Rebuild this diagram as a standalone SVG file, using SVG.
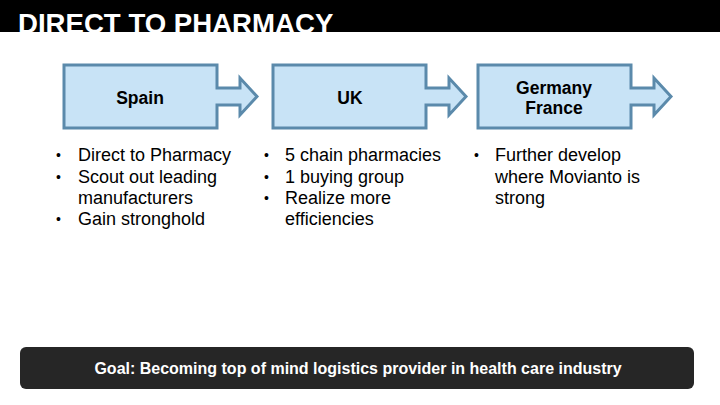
<svg xmlns="http://www.w3.org/2000/svg" width="720" height="405" viewBox="0 0 720 405">
<style>
.box{fill:#c8e3f6;stroke:#5b8aab;stroke-width:3;stroke-linejoin:miter}
.lbl{font-family:"Liberation Sans",Arial,sans-serif;font-weight:bold;font-size:17.5px;fill:#000;text-anchor:middle}
.bul{font-family:"Liberation Sans",Arial,sans-serif;font-size:18px;fill:#000}
.dot{font-size:14px}
</style>
<defs>
<path id="chev" d="M0,0 H153 V23 H176 V13 L193,31.5 L176,50 V40 H153 V63 H0 Z"/>
</defs>
<rect x="0" y="0" width="720" height="405" fill="#fff"/>
<rect x="0" y="0" width="720" height="32" fill="#000"/>
<text x="18" y="33" font-family="Liberation Sans,Arial,sans-serif" font-weight="bold" font-size="27.6" fill="#fff">DIRECT TO PHARMACY</text>
<rect x="0" y="32" width="720" height="8" fill="#fff"/>
<g id="connectors"></g>
<g id="spain">
<use href="#chev" class="box" transform="translate(64,65)"/>
<text class="lbl" x="140" y="104">Spain</text>
</g>
<g id="uk">
<use href="#chev" class="box" transform="translate(273,65)"/>
<text class="lbl" x="350" y="104">UK</text>
</g>
<g id="germany">
<use href="#chev" class="box" transform="translate(478,65)"/>
<text class="lbl" x="554" y="94">Germany</text>
<text class="lbl" x="554" y="114">France</text>
</g>
<g id="spain-list" class="bul">
<text class="dot" x="56" y="160">•</text><text x="78" y="161">Direct to Pharmacy</text>
<text class="dot" x="56" y="182">•</text><text x="78" y="183">Scout out leading</text>
<text x="78" y="204">manufacturers</text>
<text class="dot" x="56" y="224">•</text><text x="78" y="225">Gain stronghold</text>
</g>
<g id="uk-list" class="bul">
<text class="dot" x="264" y="160">•</text><text x="285" y="161">5 chain pharmacies</text>
<text class="dot" x="264" y="182">•</text><text x="285" y="183">1 buying group</text>
<text class="dot" x="264" y="203">•</text><text x="285" y="204">Realize more</text>
<text x="285" y="225">efficiencies</text>
</g>
<g id="germany-list" class="bul">
<text class="dot" x="474" y="160">•</text><text x="495" y="161">Further develop</text>
<text x="495" y="183">where Movianto is</text>
<text x="495" y="204">strong</text>
</g>
<g id="goal">
<rect x="20" y="347" width="674" height="42" rx="6" fill="#262626"/>
<text x="358" y="374" font-family="Liberation Sans,Arial,sans-serif" font-weight="bold" font-size="16" fill="#fff" text-anchor="middle">Goal: Becoming top of mind logistics provider in health care industry</text>
</g>
</svg>
